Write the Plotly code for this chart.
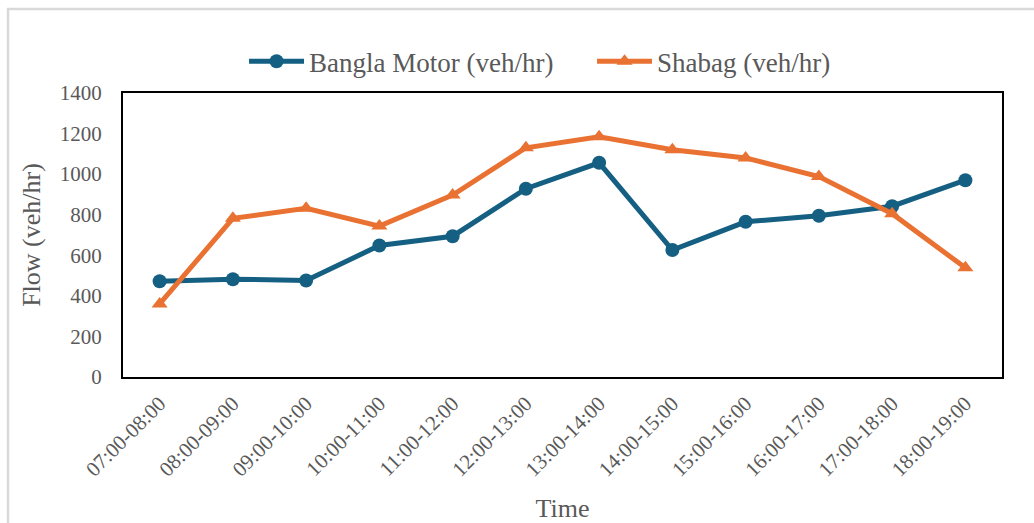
import plotly.graph_objects as go

# Hourly traffic flow at two intersections
time_slots = ["07:00-08:00", "08:00-09:00", "09:00-10:00", "10:00-11:00",
              "11:00-12:00", "12:00-13:00", "13:00-14:00", "14:00-15:00",
              "15:00-16:00", "16:00-17:00", "17:00-18:00", "18:00-19:00"]
bangla_motor = [472, 482, 476, 648, 694, 928, 1056, 626, 765, 795, 842, 970]
shabag = [360, 782, 832, 744, 897, 1130, 1184, 1120, 1080, 988, 805, 538]
y_ticks = [0, 200, 400, 600, 800, 1000, 1200, 1400]

BLUE = "#156082"
ORANGE = "#E97132"
GRAY = "#595959"
FONT = "Liberation Serif"

fig = go.Figure()
fig.add_trace(go.Scatter(
    x=time_slots, y=bangla_motor, name="Bangla Motor (veh/hr)",
    mode="lines+markers",
    line=dict(color=BLUE, width=5),
    marker=dict(symbol="circle", size=14, color=BLUE),
))
fig.add_trace(go.Scatter(
    x=time_slots, y=shabag, name="Shabag (veh/hr)",
    mode="lines+markers",
    line=dict(color=ORANGE, width=5),
    marker=dict(symbol="triangle-up", size=14, color=ORANGE),
))

# light chart-area frame
fig.add_shape(type="rect", xref="paper", yref="paper",
              x0=-0.1308, x1=1.06, y0=-0.6, y1=1.2958,
              line=dict(color="#D9D9D9", width=2.5), layer="below")

fig.update_layout(
    width=1034, height=523,
    margin=dict(l=123, r=32, t=93, b=146, autoexpand=False),
    paper_bgcolor="white", plot_bgcolor="white",
    font=dict(family=FONT, color=GRAY, size=21),
    showlegend=True,
    legend=dict(orientation="h", x=0.1377, xanchor="left",
                y=1.11, yanchor="middle",
                font=dict(family=FONT, size=27, color=GRAY),
                itemwidth=55, entrywidth=278, entrywidthmode="pixels",
                bgcolor="rgba(0,0,0,0)"),
    xaxis=dict(
        type="category", tickangle=-45, range=[-0.5, 11.5],
        automargin=False,
        tickfont=dict(family=FONT, size=21, color=GRAY),
        showline=True, linecolor="black", linewidth=2, mirror=True,
        showgrid=False, ticks="", ticklabelstandoff=4,
        title=dict(text="Time", font=dict(family=FONT, size=26, color=GRAY),
                   standoff=23),
    ),
    yaxis=dict(
        range=[0, 1400], tickvals=y_ticks, automargin=False,
        tickfont=dict(family=FONT, size=21, color=GRAY),
        showline=True, linecolor="black", linewidth=2, mirror=True,
        showgrid=False, zeroline=False, ticks="", ticklabelstandoff=15,
        title=dict(text="Flow (veh/hr)", font=dict(family=FONT, size=26, color=GRAY),
                   standoff=12),
    ),
)

fig.write_html("out.html")
